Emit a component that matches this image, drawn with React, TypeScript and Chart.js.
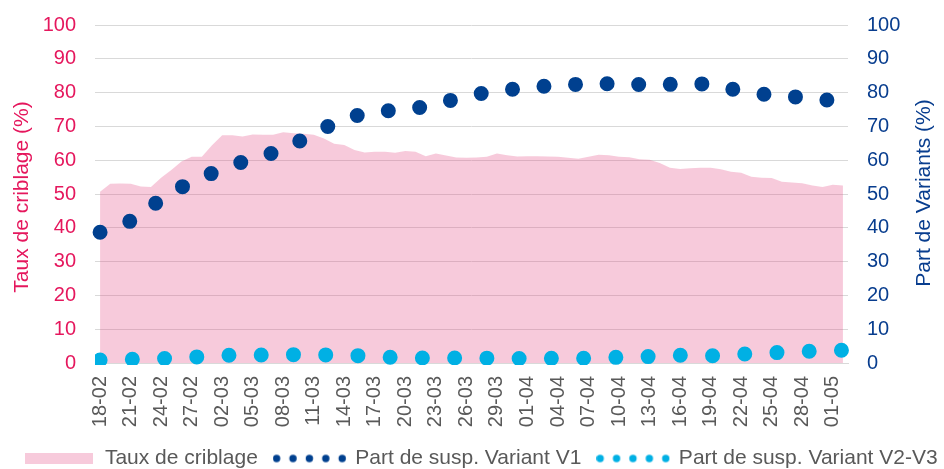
import React, { useEffect, useRef } from 'react';
import { Chart, registerables } from 'chart.js';

Chart.register(...registerables);

// ---- Data ----
const dates = [
  '18-02', '19-02', '20-02', '21-02', '22-02', '23-02', '24-02', '25-02', '26-02', '27-02', '28-02',
  '01-03', '02-03', '03-03', '04-03', '05-03', '06-03', '07-03', '08-03', '09-03', '10-03',
  '11-03', '12-03', '13-03', '14-03', '15-03', '16-03', '17-03', '18-03', '19-03', '20-03',
  '21-03', '22-03', '23-03', '24-03', '25-03', '26-03', '27-03', '28-03', '29-03', '30-03', '31-03',
  '01-04', '02-04', '03-04', '04-04', '05-04', '06-04', '07-04', '08-04', '09-04', '10-04',
  '11-04', '12-04', '13-04', '14-04', '15-04', '16-04', '17-04', '18-04', '19-04', '20-04',
  '21-04', '22-04', '23-04', '24-04', '25-04', '26-04', '27-04', '28-04', '29-04', '30-04',
  '01-05', '02-05',
];

// Taux de criblage (%), daily
const screeningRate = [
  50.7, 53.0, 53.1, 53.0, 52.2, 52.1, 54.8, 57.1, 59.6, 61.0,
  61.0, 64.4, 67.4, 67.4, 67.0, 67.6, 67.5, 67.5, 68.3, 68.0,
  67.8, 67.5, 66.4, 64.9, 64.5, 63.0, 62.3, 62.5, 62.5, 62.2,
  62.7, 62.5, 61.2, 62.0, 61.4, 60.8, 60.7, 60.8, 61.0, 62.0,
  61.5, 61.1, 61.2, 61.2, 61.1, 61.0, 60.7, 60.4, 61.0, 61.6,
  61.5, 61.0, 60.9, 60.3, 60.1, 59.2, 57.8, 57.4, 57.6, 57.8,
  57.8, 57.3, 56.6, 56.3, 55.1, 54.8, 54.7, 53.6, 53.4, 53.2,
  52.5, 52.1, 52.7, 52.5,
];

// Dates at which the variant lines were read
const variantDates = [
  '18-02', '21-02', '24-02', '27-02', '02-03', '05-03', '08-03', '11-03', '14-03', '17-03',
  '20-03', '23-03', '26-03', '29-03', '01-04', '04-04', '07-04', '10-04', '13-04', '16-04',
  '19-04', '22-04', '25-04', '28-04', '01-05', '02-05',
];

// Part de susp. Variant V1 (%)
const v1Share = [
  38.7, 42.0, 48.4, 53.8, 57.3, 60.6, 62.9, 68.0, 72.3, 74.5,
  74.8, 76.5, 79.0, 80.5, 81.5, 82.2, 82.6, 82.6, 82.3, 82.5,
  82.6, 80.4, 79.2, 78.6, 77.6,
];

// Part de susp. Variant V2-V3 (%)
const v2v3Share = [
  0.9, 1.1, 1.3, 1.7, 2.3, 2.3, 2.5, 2.4, 2.4, 1.9,
  1.5, 1.5, 1.5, 1.4, 1.3, 1.4, 1.4, 1.7, 1.9, 2.3,
  2.1, 2.6, 3.0, 3.4, 3.7, 3.8,
];

const seriesNames = ['Taux de criblage', 'Part de susp. Variant V1', 'Part de susp. Variant V2-V3'];
const leftTitle = 'Taux de criblage (%)';
const rightTitle = 'Part de Variants (%)';

// ---- Styles ----
const PINK_TEXT = '#E5175D';
const BLUE_TEXT = '#083D8E';
const AREA_FILL = 'rgba(230, 80, 135, 0.3)';
const AREA_SOLID = '#F7CADB';
const V1_COLOR = '#00408F';
const V2_COLOR = '#00B0E4';
const GREY_TEXT = '#595959';
const GRID = '#D9D9D9';
const FONT = '"Liberation Sans", Arial, sans-serif';

function toSeries(values: number[]): (number | null)[] {
  return dates.map((d) => {
    const i = variantDates.indexOf(d);
    return i >= 0 && i < values.length ? values[i] : null;
  });
}

function dotsIcon(color: string): HTMLCanvasElement {
  const c = document.createElement('canvas');
  c.width = 74;
  c.height = 10;
  const ctx = c.getContext('2d')!;
  ctx.fillStyle = color;
  for (let i = 0; i < 5; i++) {
    ctx.beginPath();
    ctx.arc(3.8 + i * 16.4, 5, 3.7, 0, Math.PI * 2);
    ctx.fill();
  }
  return c;
}

function rectIcon(color: string): HTMLCanvasElement {
  const c = document.createElement('canvas');
  c.width = 68;
  c.height = 11;
  const ctx = c.getContext('2d')!;
  ctx.fillStyle = color;
  ctx.fillRect(0, 0, 68, 11);
  return c;
}

const axisTitlesPlugin = {
  id: 'axisTitles',
  afterDraw(chart: any) {
    const { ctx, chartArea } = chart;
    const midY = (chartArea.top + chartArea.bottom) / 2;
    ctx.save();
    ctx.font = `21px ${FONT}`;
    ctx.textAlign = 'center';
    ctx.textBaseline = 'middle';
    const items: [number, number, string, string][] = [
      [22, midY + 3, leftTitle, PINK_TEXT],
      [924, midY - 1, rightTitle, BLUE_TEXT],
    ];
    items.forEach(([x, y, text, color]) => {
      ctx.save();
      ctx.translate(x, y);
      ctx.rotate(-Math.PI / 2);
      ctx.fillStyle = color;
      ctx.fillText(text, 0, 0);
      ctx.restore();
    });
    ctx.restore();
  },
};

export default function App() {
  const canvasRef = useRef<HTMLCanvasElement | null>(null);

  useEffect(() => {
    if (!canvasRef.current) return;
    Chart.defaults.font.family = FONT;

    const icons = [rectIcon(AREA_SOLID), dotsIcon(V1_COLOR), dotsIcon(V2_COLOR)];

    const chart = new Chart(canvasRef.current, {
      type: 'line',
      data: {
        labels: dates,
        datasets: [
          {
            label: seriesNames[0],
            data: screeningRate,
            yAxisID: 'y',
            fill: 'origin',
            backgroundColor: AREA_FILL,
            borderColor: 'transparent',
            borderWidth: 0,
            pointRadius: 0,
            tension: 0,
            order: 2,
          },
          {
            label: seriesNames[1],
            data: toSeries(v1Share),
            yAxisID: 'y1',
            fill: false,
            spanGaps: true,
            borderColor: V1_COLOR,
            borderWidth: 15,
            borderCapStyle: 'round',
            borderDash: [0, 31.6],
            pointRadius: 0,
            tension: 0,
            order: 0,
          },
          {
            label: seriesNames[2],
            data: toSeries(v2v3Share),
            yAxisID: 'y1',
            fill: false,
            spanGaps: true,
            borderColor: V2_COLOR,
            borderWidth: 15,
            borderCapStyle: 'round',
            borderDash: [0, 32.25],
            pointRadius: 0,
            tension: 0,
            order: 1,
            clip: { left: 0, top: 10, right: 10, bottom: 2 },
          },
        ] as any,
      },
      options: {
        responsive: false,
        devicePixelRatio: 1,
        animation: false,
        events: [],
        layout: { padding: { top: 25, left: 0, right: 0, bottom: 0 } },
        plugins: {
          tooltip: { enabled: false },
          title: { display: false },
          legend: {
            display: true,
            position: 'bottom',
            align: 'center',
            labels: {
              usePointStyle: true,
              pointStyleWidth: 70,
              padding: 17,
              color: GREY_TEXT,
              font: { size: 21 },
              generateLabels: () =>
                seriesNames.map((name, i) => ({
                  text: name,
                  pointStyle: icons[i],
                  datasetIndex: i,
                  hidden: false,
                  fillStyle: 'transparent',
                  strokeStyle: 'transparent',
                  lineWidth: 0,
                  fontColor: GREY_TEXT,
                })) as any,
            },
          },
        },
        scales: {
          x: {
            type: 'category',
            offset: true,
            grid: { display: false, drawTicks: false },
            border: { display: true, color: GRID, width: 1 },
            ticks: {
              autoSkip: false,
              maxRotation: 90,
              minRotation: 90,
              padding: 13,
              color: GREY_TEXT,
              font: { size: 20 },
              callback: (_v: any, i: number) => (i % 3 === 0 ? dates[i] : ''),
            },
            afterFit: (s: any) => {
              s.height = 68;
            },
          },
          y: {
            position: 'left',
            min: 0,
            max: 100,
            ticks: { stepSize: 10, padding: 19, color: PINK_TEXT, font: { size: 20 } },
            grid: { color: GRID, lineWidth: 1, drawTicks: false },
            border: { display: false },
            afterFit: (s: any) => {
              s.width = 95;
              s.paddingTop = 0;
              s.paddingBottom = 0;
            },
          },
          y1: {
            position: 'right',
            min: 0,
            max: 100,
            ticks: { stepSize: 10, padding: 19, color: BLUE_TEXT, font: { size: 20 } },
            grid: { display: false, drawTicks: false },
            border: { display: false },
            afterFit: (s: any) => {
              s.width = 114;
              s.paddingTop = 0;
              s.paddingBottom = 0;
            },
          },
        },
      } as any,
      plugins: [axisTitlesPlugin],
    });

    return () => chart.destroy();
  }, []);

  return (
    <div
      style={{
        position: 'fixed',
        left: 0,
        top: 0,
        width: 944,
        height: 469,
        overflow: 'hidden',
        background: '#ffffff',
      }}
    >
      <canvas ref={canvasRef} width={962} height={479} style={{ display: 'block', width: 962, height: 479 }} />
    </div>
  );
}
